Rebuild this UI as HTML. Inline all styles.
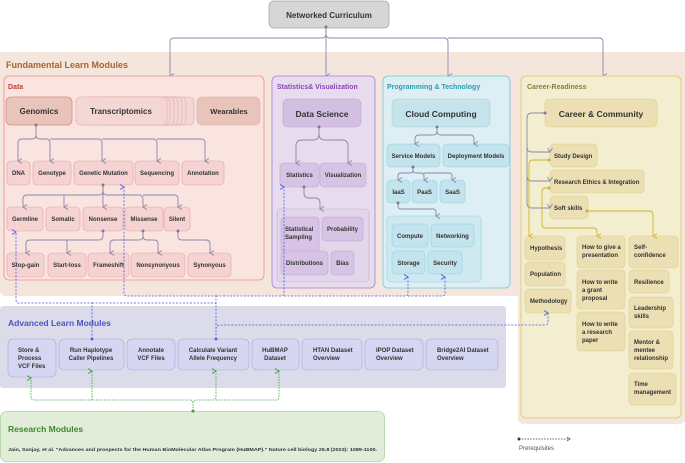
<!DOCTYPE html>
<html><head><meta charset="utf-8"><style>
html,body{margin:0;padding:0;background:#fff}
svg{display:block}
text{font-family:"Liberation Sans",sans-serif;font-weight:bold}
.n{font-size:6px;fill:#333}
</style></head><body>
<svg width="685" height="463" viewBox="0 0 685 463" xmlns="http://www.w3.org/2000/svg">
<defs>
<marker id="ag" markerWidth="6" markerHeight="6" refX="3" refY="5" orient="auto-start-reverse" markerUnits="userSpaceOnUse"><path d="M0.5,1 L3,5 L5.5,1" fill="none" stroke="#8a87a8" stroke-width="0.9"/></marker>
<marker id="ay" markerWidth="6" markerHeight="6" refX="3" refY="5" orient="auto-start-reverse" markerUnits="userSpaceOnUse"><path d="M0.5,1 L3,5 L5.5,1" fill="none" stroke="#cdb430" stroke-width="0.9"/></marker>
<marker id="ab" markerWidth="6" markerHeight="6" refX="3" refY="5" orient="auto-start-reverse" markerUnits="userSpaceOnUse"><path d="M0.5,1 L3,5 L5.5,1" fill="none" stroke="#4d5ae0" stroke-width="0.9"/></marker>
<marker id="agr" markerWidth="6" markerHeight="6" refX="3" refY="5" orient="auto-start-reverse" markerUnits="userSpaceOnUse"><path d="M0.5,1 L3,5 L5.5,1" fill="none" stroke="#3aa030" stroke-width="0.9"/></marker>
</defs>

<!-- Fundamental background -->
<path d="M0,52 H685 V418 Q685,424 679,424 H524 Q518,424 518,418 V296 H6 Q0,296 0,290 Z" fill="#f4e6dc"/>
<text x="6" y="68" font-size="9" fill="#a8642e">Fundamental Learn Modules</text>

<!-- top -->
<rect x="269" y="1" width="120" height="27" rx="5" fill="#d6d6d6" stroke="#a8a8a8" stroke-width="0.8"/>
<text x="329" y="18" font-size="8" fill="#333" text-anchor="middle">Networked Curriculum</text>
<g fill="none" stroke="#8a87a8" stroke-width="0.9">
<path d="M326,27 V34 Q326,38 322,38 H174 Q170,38 170,42 V76" marker-end="url(#ag)"/>
<path d="M326,27 V76" marker-end="url(#ag)"/>
<path d="M326,34 Q326,38 330,38 H444 Q448,38 448,42 V76" marker-end="url(#ag)"/>
<path d="M448,38 H599 Q603,38 603,42 V76" marker-end="url(#ag)"/>
</g>
<circle cx="326" cy="27" r="1.5" fill="#7d7a9a"/>

<!-- Data -->
<rect x="4" y="76" width="260" height="204" rx="5" fill="#f9e4df" stroke="#ec8d8d" stroke-width="0.8"/>
<text x="8" y="89" font-size="7" fill="#c8383b">Data</text>
<rect x="6" y="97" width="66" height="28" rx="5" fill="#e9c4ba" stroke="#de8a82" stroke-width="0.8"/>
<text x="39" y="114" font-size="8" fill="#333" text-anchor="middle">Genomics</text>
<g fill="#f4d7d5" stroke="#e5a9a8" stroke-width="0.6">
<rect x="100" y="97" width="94" height="28" rx="5"/>
<rect x="96" y="97" width="90" height="28" rx="5"/>
<rect x="92" y="97" width="90" height="28" rx="5"/>
<rect x="88" y="97" width="90" height="28" rx="5"/>
<rect x="84" y="97" width="90" height="28" rx="5"/>
<rect x="80" y="97" width="90" height="28" rx="5"/>
<rect x="76" y="97" width="91" height="28" rx="5"/>
</g>
<text x="121" y="114" font-size="8" fill="#333" text-anchor="middle">Transcriptomics</text>
<rect x="197" y="97" width="63" height="28" rx="5" fill="#e9c4ba" stroke="#e0b0a8" stroke-width="0.6"/>
<text x="229" y="114" font-size="7.5" fill="#333" text-anchor="middle">Wearables</text>

<g fill="#f4d3d2" stroke="#e7a4a3" stroke-width="0.6">
<rect x="7" y="161" width="23" height="24" rx="4"/>
<rect x="33" y="161" width="38" height="24" rx="4"/>
<rect x="74" y="161" width="59" height="24" rx="4"/>
<rect x="135" y="161" width="44" height="24" rx="4"/>
<rect x="182" y="161" width="42" height="24" rx="4"/>
<rect x="7" y="207" width="36" height="24" rx="4"/>
<rect x="46" y="207" width="34" height="24" rx="4"/>
<rect x="83" y="207" width="40" height="24" rx="4"/>
<rect x="125" y="207" width="38" height="24" rx="4"/>
<rect x="164" y="207" width="26" height="24" rx="4"/>
<rect x="7" y="253" width="37" height="24" rx="4"/>
<rect x="48" y="253" width="38" height="24" rx="4"/>
<rect x="88" y="253" width="41" height="24" rx="4"/>
<rect x="131" y="253" width="54" height="24" rx="4"/>
<rect x="188" y="253" width="43" height="24" rx="4"/>
</g>
<g class="n" text-anchor="middle">
<text x="18.5" y="175" class="n">DNA</text>
<text x="52" y="175" class="n">Genotype</text>
<text x="103.5" y="175" class="n">Genetic Mutation</text>
<text x="157" y="175" class="n">Sequencing</text>
<text x="203" y="175" class="n">Annotation</text>
<text x="25" y="221" class="n">Germline</text>
<text x="63" y="221" class="n">Somatic</text>
<text x="103" y="221" class="n">Nonsense</text>
<text x="144" y="221" class="n">Missense</text>
<text x="177" y="221" class="n">Silent</text>
<text x="25.5" y="267" class="n">Stop-gain</text>
<text x="67" y="267" class="n">Start-loss</text>
<text x="108.5" y="267" class="n">Frameshift</text>
<text x="158" y="267" class="n">Nonsynonyous</text>
<text x="209.5" y="267" class="n">Synonyous</text>
</g>
<g fill="none" stroke="#8a87a8" stroke-width="0.9">
<path d="M36,125 V135 Q36,139 32,139 H22 Q18,139 18,143 V161" marker-end="url(#ag)"/>
<path d="M36,135 Q36,139 40,139 H46 Q50,139 50,143 V161" marker-end="url(#ag)"/>
<path d="M50,139 H98 Q102,139 102,143 V161" marker-end="url(#ag)"/>
<path d="M102,139 H153 Q157,139 157,143 V161" marker-end="url(#ag)"/>
<path d="M157,139 H201 Q205,139 205,143 V161" marker-end="url(#ag)"/>
<path d="M103,185 V191 Q103,195 99,195 H27 Q23,195 23,199 V207" marker-end="url(#ag)"/>
<path d="M64,195 Q64,195 64,199 V207" marker-end="url(#ag)"/>
<path d="M103,185 V207" marker-end="url(#ag)"/>
<path d="M103,191 Q103,195 107,195 H139 Q143,195 143,199 V207" marker-end="url(#ag)"/>
<path d="M143,195 H174 Q178,195 178,199 V207" marker-end="url(#ag)"/>
<path d="M103,231 V236 Q103,240 99,240 H30 Q26,240 26,244 V253" marker-end="url(#ag)"/>
<path d="M67,240 V253" marker-end="url(#ag)"/>
<path d="M143,231 V236 Q143,240 139,240 H114 Q110,240 110,244 V253" marker-end="url(#ag)"/>
<path d="M143,236 Q143,240 147,240 H154 Q158,240 158,244 V253" marker-end="url(#ag)"/>
<path d="M178,231 V236 Q178,240 182,240 H206 Q210,240 210,244 V253" marker-end="url(#ag)"/>
</g>
<g fill="#7d7a9a"><circle cx="36" cy="125" r="1.5"/><circle cx="103" cy="185" r="1.5"/><circle cx="103" cy="231" r="1.5"/><circle cx="143" cy="231" r="1.5"/><circle cx="178" cy="231" r="1.5"/></g>

<!-- Stats -->
<rect x="272" y="76" width="103" height="212" rx="5" fill="#e7dced" stroke="#a97fd3" stroke-width="0.8"/>
<text x="277" y="89" font-size="7" fill="#8a45b8">Statistics&amp; Visualization</text>
<rect x="283" y="99" width="78" height="28" rx="5" fill="#d3bfe2" stroke="#c0a4d6" stroke-width="0.6"/>
<text x="322" y="117" font-size="8.5" fill="#333" text-anchor="middle">Data Science</text>
<rect x="277" y="209" width="92" height="73" rx="4" fill="#e2d6ea" stroke="#c4b0d8" stroke-width="0.6"/>
<g fill="#d7c4e4" stroke="#bfa2d6" stroke-width="0.6">
<rect x="280" y="163" width="39" height="24" rx="4"/>
<rect x="320" y="163" width="46" height="24" rx="4"/>
<rect x="281" y="217" width="38" height="36" rx="4"/>
<rect x="322" y="217" width="41" height="24" rx="4"/>
<rect x="281" y="251" width="47" height="24" rx="4"/>
<rect x="331" y="251" width="23" height="24" rx="4"/>
</g>
<text x="299.5" y="177" class="n" text-anchor="middle">Statistics</text>
<text x="343" y="177" class="n" text-anchor="middle">Visualization</text>
<text x="285" y="231" class="n">Statistical</text>
<text x="285" y="239" class="n">Sampling</text>
<text x="342.5" y="231" class="n" text-anchor="middle">Probability</text>
<text x="304.5" y="265" class="n" text-anchor="middle">Distributions</text>
<text x="342.5" y="265" class="n" text-anchor="middle">Bias</text>
<g fill="none" stroke="#8a87a8" stroke-width="0.9">
<path d="M319,127 V134 Q319,140 313,140 H302 Q296,140 296,146 V163" marker-end="url(#ag)"/>
<path d="M319,134 Q319,140 325,140 H342 Q348,140 348,146 V163" marker-end="url(#ag)"/>
<path d="M304,187 V193 Q304,198 309,198 H315 Q320,198 320,203 V209" marker-end="url(#ag)"/>
</g>
<circle cx="319" cy="127" r="1.5" fill="#7d7a9a"/><circle cx="304" cy="187" r="1.5" fill="#7d7a9a"/>

<!-- Programming -->
<rect x="383" y="76" width="127" height="212" rx="5" fill="#ddeff4" stroke="#6fc6da" stroke-width="0.8"/>
<text x="387" y="89" font-size="7" fill="#2d9bb0">Programming &amp; Technology</text>
<rect x="392" y="99" width="98" height="28" rx="5" fill="#c5e3ea" stroke="#a6d8c8" stroke-width="0.6"/>
<text x="441" y="117" font-size="8.5" fill="#333" text-anchor="middle">Cloud Computing</text>
<rect x="387" y="216" width="94" height="66" rx="4" fill="#cfe9f1" stroke="#8fd2e2" stroke-width="0.6"/>
<g fill="#c3e3ed" stroke="#92d2e2" stroke-width="0.6">
<rect x="387" y="144" width="53" height="23" rx="4"/>
<rect x="443" y="144" width="66" height="23" rx="4"/>
<rect x="387" y="180" width="23" height="23" rx="4"/>
<rect x="412" y="180" width="25" height="23" rx="4"/>
<rect x="440" y="180" width="25" height="23" rx="4"/>
<rect x="392" y="224" width="36" height="23" rx="4"/>
<rect x="431" y="224" width="43" height="23" rx="4"/>
<rect x="392" y="251" width="33" height="23" rx="4"/>
<rect x="428" y="251" width="34" height="23" rx="4"/>
</g>
<g class="n" text-anchor="middle">
<text x="413.5" y="158" class="n">Service Models</text>
<text x="476" y="158" class="n">Deployment Models</text>
<text x="398.5" y="194" class="n">IaaS</text>
<text x="424.5" y="194" class="n">PaaS</text>
<text x="452.5" y="194" class="n">SaaS</text>
<text x="410" y="238" class="n">Compute</text>
<text x="452.5" y="238" class="n">Networking</text>
<text x="408.5" y="265" class="n">Storage</text>
<text x="445" y="265" class="n">Security</text>
</g>
<g fill="none" stroke="#8a87a8" stroke-width="0.9">
<path d="M437,127 V131 Q437,135 433,135 H419 Q415,135 415,139 V144" marker-end="url(#ag)"/>
<path d="M437,131 Q437,135 441,135 H470 Q474,135 474,139 V144" marker-end="url(#ag)"/>
<path d="M413,167 V170 Q413,173 410,173 H401 Q398,173 398,176 V180" marker-end="url(#ag)"/>
<path d="M413,170 Q413,173 416,173 H421 Q424,173 424,176 V180" marker-end="url(#ag)"/>
<path d="M424,173 H449 Q452,173 452,176 V180" marker-end="url(#ag)"/>
<path d="M398,203 V206 Q398,209 401,209 H433 Q436,209 436,212 V216" marker-end="url(#ag)"/>
</g>
<circle cx="437" cy="127" r="1.5" fill="#7d7a9a"/><circle cx="413" cy="167" r="1.5" fill="#7d7a9a"/><circle cx="398" cy="203" r="1.5" fill="#7d7a9a"/>

<!-- Career -->
<rect x="521" y="76" width="160" height="342" rx="5" fill="#f3eecf" stroke="#dcc766" stroke-width="0.8"/>
<text x="527" y="89" font-size="7" fill="#8b7d3a">Career-Readiness</text>
<g fill="#ebdfb3" stroke="#dccf8e" stroke-width="0.6">
<rect x="545" y="99" width="112" height="28" rx="5"/>
<rect x="550" y="144" width="47" height="23" rx="4"/>
<rect x="550" y="170" width="94" height="23" rx="4"/>
<rect x="550" y="196" width="38" height="23" rx="4"/>
<rect x="525" y="236" width="40" height="24" rx="4"/>
<rect x="525" y="262" width="40" height="24" rx="4"/>
<rect x="525" y="289" width="46" height="24" rx="4"/>
<rect x="577" y="236" width="48" height="32" rx="4"/>
<rect x="577" y="270" width="48" height="39" rx="4"/>
<rect x="577" y="312" width="48" height="39" rx="4"/>
<rect x="629" y="236" width="49" height="32" rx="4"/>
<rect x="629" y="270" width="40" height="23" rx="4"/>
<rect x="629" y="297" width="44" height="31" rx="4"/>
<rect x="629" y="331" width="44" height="38" rx="4"/>
<rect x="629" y="373" width="47" height="32" rx="4"/>
</g>
<text x="601" y="117" font-size="8.5" fill="#333" text-anchor="middle">Career &amp; Community</text>
<text x="554" y="158" class="n">Study Design</text>
<text x="554" y="184" class="n">Research Ethics &amp; Integration</text>
<text x="554" y="210" class="n">Soft skills</text>
<text x="530" y="250" class="n">Hypothesis</text>
<text x="530" y="276" class="n">Population</text>
<text x="530" y="303" class="n">Methodology</text>
<text x="582" y="249" class="n">How to give a</text><text x="582" y="257" class="n">presentation</text>
<text x="582" y="284" class="n">How to write</text><text x="582" y="292" class="n">a grant</text><text x="582" y="300" class="n">proposal</text>
<text x="582" y="326" class="n">How to write</text><text x="582" y="334" class="n">a research</text><text x="582" y="342" class="n">paper</text>
<text x="634" y="249" class="n">Self-</text><text x="634" y="257" class="n">confidence</text>
<text x="634" y="284" class="n">Resilience</text>
<text x="634" y="310" class="n">Leadership</text><text x="634" y="318" class="n">skills</text>
<text x="634" y="344" class="n">Mentor &amp;</text><text x="634" y="352" class="n">mentee</text><text x="634" y="360" class="n">relationship</text>
<text x="634" y="386" class="n">Time</text><text x="634" y="394" class="n">management</text>
<g fill="none" stroke="#8a87a8" stroke-width="0.9">
<path d="M545,113 H532 Q527,113 527,118 V147 Q527,152 532,152 H550" marker-end="url(#ag)"/>
<path d="M527,147 V176 Q527,181 532,181 H550" marker-end="url(#ag)"/>
<path d="M527,176 V203 Q527,208 532,208 H550" marker-end="url(#ag)"/>
</g>
<g fill="none" stroke="#cdb430" stroke-width="0.9">
<path d="M549,160 H533 Q529,160 529,164 V236" marker-end="url(#ay)"/>
<path d="M549,188 H546 Q542,188 542,192 V224 Q542,228 546,228 H593 Q597,228 597,232 V236" marker-end="url(#ay)"/>
<path d="M587,211 H649 Q653,211 653,215 V236" marker-end="url(#ay)"/>
</g>
<g fill="#cdb430"><circle cx="549" cy="160" r="1.5"/><circle cx="549" cy="188" r="1.5"/><circle cx="587" cy="211" r="1.5"/></g>
<circle cx="545" cy="113" r="1.5" fill="#7d7a9a"/>

<!-- Advanced -->
<rect x="0" y="306" width="506" height="82" rx="3" fill="#dcdbe9"/>
<text x="8" y="326" font-size="8.5" fill="#4a55c0">Advanced Learn Modules</text>
<g fill="#d5d6f1" stroke="#a7a8d6" stroke-width="0.6">
<rect x="8" y="339" width="48" height="38" rx="5"/>
<rect x="59" y="339" width="65" height="31" rx="5"/>
<rect x="127" y="339" width="48" height="31" rx="5"/>
<rect x="178" y="339" width="71" height="31" rx="5"/>
<rect x="252" y="339" width="47" height="31" rx="5"/>
<rect x="302" y="339" width="60" height="31" rx="5"/>
<rect x="365" y="339" width="58" height="31" rx="5"/>
<rect x="426" y="339" width="72" height="31" rx="5"/>
</g>
<text x="18" y="352" class="n">Store &amp;</text><text x="18" y="360" class="n">Process</text><text x="18" y="368" class="n">VCF Files</text>
<g text-anchor="middle">
<text x="91" y="352" class="n">Run Haplotype</text><text x="91" y="360" class="n">Caller Pipelines</text>
<text x="151" y="352" class="n">Annotate</text><text x="151" y="360" class="n">VCF Files</text>
<text x="213" y="352" class="n">Calculate Variant</text><text x="213" y="360" class="n">Allele Frequency</text>
<text x="275" y="352" class="n">HuBMAP</text><text x="275" y="360" class="n">Dataset</text>
</g>
<text x="313" y="352" class="n">HTAN Dataset</text><text x="313" y="360" class="n">Overview</text>
<text x="376" y="352" class="n">IPOP Dataset</text><text x="376" y="360" class="n">Overview</text>
<text x="437" y="352" class="n">Bridge2AI Dataset</text><text x="437" y="360" class="n">Overview</text>

<!-- blue dashed -->
<g fill="none" stroke="#4d5ae0" stroke-width="0.8" stroke-dasharray="2,1.5">
<path d="M92,339 V303 H19 Q16,303 16,300 V232" marker-end="url(#ab)"/>
<path d="M92,303 H216"/>
<path d="M216,339 V296 H127 Q124,296 124,293 V187" marker-end="url(#ab)"/>
<path d="M216,296 H281 Q284,296 284,293 V187" marker-end="url(#ab)"/>
<path d="M284,296 H405 Q408,296 408,293 V277" marker-end="url(#ab)"/>
<path d="M408,296 H442 Q445,296 445,293 V277" marker-end="url(#ab)"/>
<path d="M216,329 Q216,325 220,325 H545 Q548,325 548,322 V313" marker-end="url(#ab)"/>
</g>
<circle cx="92" cy="339" r="1.4" fill="#4d5ae0"/><circle cx="216" cy="339" r="1.4" fill="#4d5ae0"/>

<!-- Research -->
<rect x="0.5" y="411.5" width="384" height="50" rx="6" fill="#e1ecd9" stroke="#add39e" stroke-width="0.8"/>
<text x="8" y="432" font-size="8.5" fill="#3c8a2c">Research Modules</text>
<text x="8" y="451" font-size="4.6" fill="#333" textLength="369" lengthAdjust="spacingAndGlyphs">Jain, Sanjay, et al. "Advances and prospects for the Human BioMolecular Atlas Program (HuBMAP)." Nature cell biology 25.8 (2023): 1089-1100.</text>
<g fill="none" stroke="#3aa030" stroke-width="0.8" stroke-dasharray="1.5,1.2">
<path d="M193,411 V403 Q193,400 190,400 H34 Q31,400 31,397 V378" marker-end="url(#agr)"/>
<path d="M92,400 Q92,400 92,397 V371" marker-end="url(#agr)"/>
<path d="M193,403 Q193,400 196,400 H213 Q216,400 216,397 V371" marker-end="url(#agr)"/>
<path d="M216,400 H276 Q279,400 279,397 V371" marker-end="url(#agr)"/>
</g>
<circle cx="193" cy="411" r="1.5" fill="#3aa030"/>

<!-- legend -->
<circle cx="519" cy="439" r="1.5" fill="#333"/>
<path d="M519,439 H570" fill="none" stroke="#333" stroke-width="0.7" stroke-dasharray="1.5,1.3"/>
<path d="M567,437 L570,439 L567,441" fill="none" stroke="#333" stroke-width="0.7"/>
<text x="519" y="450" font-size="6" fill="#555" font-weight="normal" style="font-weight:normal">Prerequisites</text>
</svg>
</body></html>
